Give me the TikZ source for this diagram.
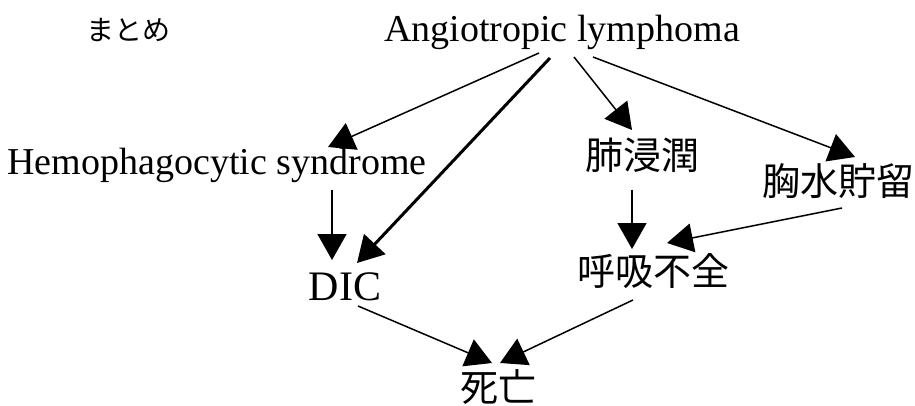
\documentclass[tikz,border=0pt]{standalone}
\usepackage{fontspec}
\setmainfont{Liberation Serif}
\newfontfamily\jfont{Noto Sans CJK JP}
\usetikzlibrary{arrows.meta,calc}

\begin{document}
\begin{tikzpicture}
	[x=1pt, y=-1pt,
	lat/.style = {inner sep=0, anchor=base, font=\fontsize{38}{40}\selectfont},
	jp/.style = {inner sep=0, anchor=center, font=\jfont\fontsize{38}{40}\selectfont},
	post/.style = {-{Triangle[length=26pt,width=29pt]}, line width=1.5pt},
	postthick/.style = {post, line width=3pt}]
	\useasboundingbox (0,0) rectangle (915,406);
	\node (summary) [jp, font=\jfont\fontsize{28}{30}\selectfont] at (128,30) {まとめ};
	\node (angio) [lat] at (562,42) {Angiotropic lymphoma};
	\node (hps) [lat] at (217,175) {Hemophagocytic syndrome};
	\node (lung) [jp] at (642,155) {肺浸潤};
	\node (pleural) [jp] at (838,181) {胸水貯留};
	\node (dic) [lat, font=\fontsize{42}{44}\selectfont] at (345,300) {DIC};
	\node (resp) [jp] at (653,271) {呼吸不全};
	\node (death) [jp] at (498,387) {死亡};
	% from the lymphoma
	\draw [post] ($(angio.base)+(-23,11)$) -- ($(hps.base)+(111,-28)$);
	\draw [postthick] ($(angio.base)+(-12,16)$) -- ($(dic.base)+(12,-37)$);
	\draw [post] ($(angio.base)+(12,15)$) -- ($(lung.center)+(-10,-25)$);
	\draw [post] ($(angio.base)+(31,15)$) -- ($(pleural.center)+(17,-24)$);
	% second row
	\draw [post] ($(hps.base)+(115,15)$) -- ($(dic.base)+(-13,-40)$);
	\draw [post] ($(lung.center)+(-10,35)$) -- ($(resp.center)+(-21,-22)$);
	\draw [post] ($(pleural.center)+(4,27)$) -- ($(resp.center)+(14,-28)$);
	% to death
	\draw [post] ($(dic.base)+(13,6)$) -- ($(death.center)+(-6,-24)$);
	\draw [post] ($(resp.center)+(-20,29)$) -- ($(death.center)+(2,-24)$);
\end{tikzpicture}
\end{document}
